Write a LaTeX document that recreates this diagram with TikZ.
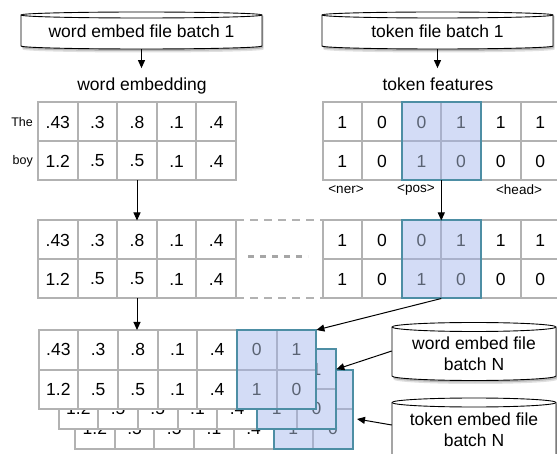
\documentclass[tikz,border=0pt]{standalone}
\usepackage{fontspec}
\setmainfont{Liberation Sans}
\usetikzlibrary{arrows.meta,calc}
\definecolor{gridgray}{HTML}{B2B2B2}
\definecolor{bluefill}{HTML}{D3DCF6}
\definecolor{tealb}{HTML}{4D8EA4}
\definecolor{bluegrid}{HTML}{A9B1CB}
\definecolor{bluetext}{HTML}{5A6373}
% #1 centre x, #2 x radius, #3 top y, #4 bottom y, #5 y radius
\newcommand\drawcyl[5]{%
  \fill[black,opacity=0.12] (#1-#2+1.5,#3+1) -- (#1-#2+1.5,#4+3.5) arc[start angle=180,end angle=360,x radius=#2pt,y radius=#5pt] -- (#1+#2+1.5,#3+1) -- cycle;
  \fill[black,opacity=0.18] (#1-#2+1,#3+1) -- (#1-#2+1,#4+2) arc[start angle=180,end angle=360,x radius=#2pt,y radius=#5pt] -- (#1+#2+1,#3+1) -- cycle;
  \filldraw[cylline] (#1-#2,#3) -- (#1-#2,#4) arc[start angle=180,end angle=360,x radius=#2pt,y radius=#5pt] -- (#1+#2,#3) arc[start angle=0,end angle=180,x radius=#2pt,y radius=#5pt] -- cycle;
  \draw[cylline] (#1-#2,#3) arc[start angle=180,end angle=360,x radius=#2pt,y radius=#5pt];
}
\begin{document}
\begin{tikzpicture}[x=1pt,y=-1pt,
  bigfont/.style={font=\fontsize{17.5}{21}\selectfont},
  cylline/.style={draw=black,fill=white,line width=0.9pt},
  cyltext/.style={bigfont,inner sep=0pt,align=center},
  lbl/.style={bigfont,inner sep=0pt},
  rowlbl/.style={font=\fontsize{12.5}{14}\selectfont,inner sep=0pt},
  tag/.style={font=\fontsize{13.5}{15}\selectfont,inner sep=0pt},
  cell/.style={draw=gridgray,line width=2pt,fill=white,minimum width=39.6pt,minimum height=39pt,inner sep=0pt,outer sep=0pt,bigfont,text=black},
  bcell/.style={cell,fill=bluefill,draw=bluegrid,text=bluetext},
  hlbox/.style={draw=tealb,line width=2pt},
  dashline/.style={draw=gridgray,line width=2pt,dash pattern=on 8pt off 6pt},
  dotsline/.style={draw=black!35,line width=3pt,dash pattern=on 6pt off 6pt},
  arr/.style={-{Triangle[length=8pt,width=7pt]},line width=1pt,black}]
\path[use as bounding box] (0,0) rectangle (557,454);
\clip (0,0) rectangle (557,454);

% top cylinders
\drawcyl{141.5}{120.5}{15}{46}{3}
\node[cyltext,minimum height=35pt] (c1) at (141.5,31.5) {word embed file batch 1};
\drawcyl{437.5}{115.5}{15}{46}{3}
\node[cyltext,minimum height=35pt] (c2) at (437.5,31.5) {token file batch 1};

% labels
\node[lbl,anchor=base] (we) at (142,91) {word embedding};
\node[lbl,anchor=base] (tf) at (438,91) {token features};
\draw[arr,shorten >=10pt] (c1.south) -- (c1.south |- we.north);
\draw[arr,shorten >=10pt] (c2.south) -- (c2.south |- tf.north);

% top word grid
\foreach \v [count=\i] in {.43,.3,.8,.1,.4}
  \node[cell] (wa1\i) at ({38+(\i-0.5)*39.6},122) {\v};
\foreach \v [count=\i] in {1.2,.5,.5,.1,.4}
  \node[cell] (wa2\i) at ({38+(\i-0.5)*39.6},161) {\v};
\node[rowlbl,anchor=east] (lthe) at (33,122) {The};
\node[rowlbl,anchor=east] (lboy) at (33,161) {boy};

% top token grid
\foreach \v/\s [count=\i] in {1/cell,0/cell,0/bcell,1/bcell,1/cell,1/cell}
  \node[\s] (ta1\i) at ({322.5+(\i-0.5)*39.6},122) {\v};
\foreach \v/\s [count=\i] in {1/cell,0/cell,1/bcell,0/bcell,0/cell,0/cell}
  \node[\s] (ta2\i) at ({322.5+(\i-0.5)*39.6},161) {\v};
\draw[hlbox] (ta13.north west) rectangle (ta24.south east);
\node[tag] (tner) at (346,190) {<ner>};
\node[tag] (tpos) at (416,190) {<pos>};
\node[tag] (thead) at (519,190) {<head>};

% middle row
\foreach \v [count=\i] in {.43,.3,.8,.1,.4}
  \node[cell] (wb1\i) at ({38+(\i-0.5)*39.6},240) {\v};
\foreach \v [count=\i] in {1.2,.5,.5,.1,.4}
  \node[cell] (wb2\i) at ({38+(\i-0.5)*39.6},279) {\v};
\foreach \v/\s [count=\i] in {1/cell,0/cell,0/bcell,1/bcell,1/cell,1/cell}
  \node[\s] (tb1\i) at ({322.5+(\i-0.5)*39.6},240) {\v};
\foreach \v/\s [count=\i] in {1/cell,0/cell,1/bcell,0/bcell,0/cell,0/cell}
  \node[\s] (tb2\i) at ({322.5+(\i-0.5)*39.6},279) {\v};
\draw[hlbox] (tb13.north west) rectangle (tb24.south east);
\draw[dashline] (wb15.north east) -- (tb11.north west);
\draw[dashline] (wb25.south east) -- (tb21.south west);
\coordinate (dA) at (248,257);
\coordinate (dB) at (308,257);
\draw[dotsline] (dA) -- (dB);

\draw[arr] (wa23.south) -- (wb13.north);
\draw[arr] (ta23.south east) -- (tb13.north east);

% bottom stacked layers
\foreach \ly/\dx/\dy in {3/36.5/39.5,2/20/19.5,1/0/0}{
  \foreach \v/\s [count=\i] in {.43/cell,.3/cell,.8/cell,.1/cell,.4/cell,0/bcell,1/bcell}
    \node[\s,minimum width=39.7pt,minimum height=39.5pt] (l\ly a\i) at ({38.5+\dx+(\i-0.5)*39.7},{349.75+\dy}) {\v};
  \foreach \v/\s [count=\i] in {1.2/cell,.5/cell,.5/cell,.1/cell,.4/cell,1/bcell,0/bcell}
    \node[\s,minimum width=39.7pt,minimum height=39.5pt] (l\ly b\i) at ({38.5+\dx+(\i-0.5)*39.7},{389.25+\dy}) {\v};
  \draw[hlbox] (l\ly a6.north west) rectangle (l\ly b7.south east);
}

% bottom cylinders
\drawcyl{474}{82}{327}{376}{4.5}
\node[cyltext,minimum width=164pt] (cw) at (474,354) {word embed file\\batch N};
\drawcyl{474}{82}{402.5}{475}{4.5}
\node[cyltext,minimum width=164pt] (ct) at (474,429.5) {token embed file\\batch N};

\draw[arr] (wb23.south) -- (wb23.south |- l1a3.north);
\draw[arr] (tb23.south east) -- (l1a7.north east);
\draw[arr] ([yshift=3pt]cw.west) -- (l2a7.east);
\coordinate (tgt3) at (357,419);
\draw[arr] ([yshift=4.5pt]ct.west) -- (tgt3);
\end{tikzpicture}
\end{document}
